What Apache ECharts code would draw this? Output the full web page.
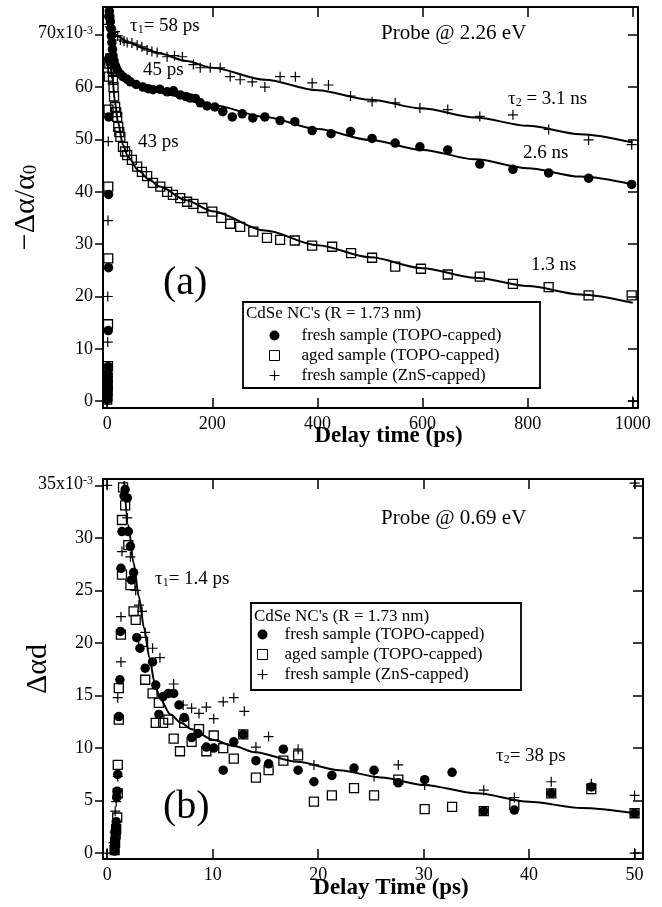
<!DOCTYPE html>
<html>
<head>
<meta charset="utf-8">
<script src="https://cdn.jsdelivr.net/npm/echarts@6/dist/echarts.min.js"></script>
<style>html,body{margin:0;background:#fff}#chart{width:662px;height:907px}</style>
</head>
<body>
<div id="chart"></div>
<script>
var FONT = 'Liberation Serif'
var NAMES = ['fresh sample (TOPO-capped)', 'aged sample (TOPO-capped)', 'fresh sample (ZnS-capped)']

// (a) probe 2.26 eV, y in units of 1e-3
var aTicksX = [0, 200, 400, 600, 800, 1000]
var aTicksY = [0, 10, 20, 30, 40, 50, 60, 70]
var aFresh = [[0,0.3],[0.5,1],[0.5,1.6],[1,2.2],[1,3],[1,3.8],[1.5,4.6],[1.5,5.4],[2,6.6],[2,13.5],[2.5,25.5],[2.5,39.5],[3,54.3],[3,65.5],[3,73.5],[4,74.5],[5,73.5],[6,72.5],[7,71.2],[8,69.8],[9,68.5],[10,67.2],[11,66],[13,65],[16,64],[19,63.3],[25,62.5],[30,62],[38,61.5],[44,61],[55,60.5],[68,60],[78,59.7],[87,59.5],[100,59.6],[114,59.1],[126,59.3],[139,58.5],[150,58.2],[158,57.9],[168,57.8],[177,57],[190,56.4],[205,56.2],[220,55.3],[238,54.3],[257,54.9],[277,54.1],[300,54.3],[329,53.6],[357,53.4],[390,51.7],[426,51.1],[463,51.5],[504,50.2],[548,49.3],[595,48.6],[648,48],[709,45.3],[772,44.3],[840,43.6],[916,42.6],[998,41.4]]
var aAged = [[0,0.3],[0.5,1],[0.5,2],[1,3],[1,4.5],[1.5,6.7],[1.5,14.7],[2,27.3],[2,41],[2.5,55.7],[3,62],[4,64.5],[6,65.5],[8,65],[9,64.6],[10,63.5],[11,62.9],[11,61.4],[12,60],[13,58.2],[15,56.2],[17,55.2],[19,54.3],[21,52.4],[23,51.4],[25,50.5],[30,48.6],[34,47.7],[38,47],[47,46.1],[57,44.8],[66,43.8],[76,43],[87,41.7],[101,41],[114,40],[125,39.4],[139,38.8],[152,38.1],[164,37.7],[181,36.9],[200,36.2],[217,35],[234,33.9],[253,33.3],[278,32.4],[304,31.2],[329,30.8],[357,30.7],[390,29.7],[428,29.5],[464,28.3],[504,27.4],[548,25.7],[597,25.3],[648,24.2],[709,23.8],[772,22.4],[840,21.8],[916,20.2],[998,20.2]]
var aZns = [[0,0],[0.5,1.2],[1,11.3],[1,20],[1.5,34.5],[2,49.6],[2,72],[5,71.5],[8,71],[11,70.5],[15,70.6],[20,69.8],[25,69],[32,68.8],[38,68.5],[47,68.4],[57,68],[66,67.7],[76,67.1],[85,66.8],[95,66.6],[114,65.8],[128,66],[143,65.8],[164,64.3],[177,63.7],[196,63.7],[215,63.7],[234,62],[253,61.4],[276,61],[300,60],[329,62],[358,62],[390,60.8],[421,60.4],[463,58.3],[504,57.2],[548,57],[595,56],[648,55.7],[709,54.4],[772,54.7],[840,51.9],[916,49.9],[998,49],[1000,0]]
var aFitFresh = [[2,73.5],[5,69],[10,66],[20,63.2],[30,62],[50,60.6],[80,59.6],[120,58.5],[160,57.5],[200,56.6],[300,54.3],[400,52],[500,49.9],[600,48],[700,46.2],[800,44.5],[900,42.9],[1000,41.4]]
var aFitAged = [[3,66],[6,64],[10,61.5],[15,57],[20,53.5],[30,49],[40,46.6],[60,44],[80,42.3],[100,41],[150,38.4],[200,36.3],[300,32.6],[400,29.8],[500,27.5],[600,25.4],[700,23.6],[800,22],[900,20.4],[1000,18.8]]
var aFitZns = [[0,72.5],[10,70.5],[20,69.7],[40,68.6],[70,67.4],[100,66.4],[150,65],[200,63.7],[300,61.4],[400,59.4],[500,57.6],[600,55.9],[700,54.2],[800,52.6],[900,51],[1000,49.4]]

// (b) probe 0.69 eV, y in units of 1e-3
var bTicksX = [0, 10, 20, 30, 40, 50]
var bTicksY = [0, 5, 10, 15, 20, 25, 30, 35]
var bFresh = [[0.7,0.2],[0.7,0.6],[0.75,1],[0.75,1.4],[0.8,1.8],[0.8,2.2],[0.8,2.5],[0.85,3],[0.9,5.3],[0.95,5.9],[1,7.5],[1.1,13],[1.2,16.5],[1.25,21.1],[1.3,27.1],[1.4,30.6],[1.6,34],[1.7,34.6],[1.9,33.8],[2,30.6],[2.2,29.2],[2.3,26],[2.5,26.7],[2.8,20.5],[3.1,19.5],[3.6,17.6],[4.3,18.2],[4.6,16],[4.9,13.2],[5.3,14.9],[5.8,15.2],[6.3,15.2],[6.8,14.1],[7.3,12.9],[8,11],[8.6,11.4],[9.4,10.1],[10.1,10],[11,7.9],[12,10.6],[12.9,11.3],[14.1,8.8],[15.3,8.5],[16.7,9.9],[18.1,7.9],[19.6,6.8],[21.3,7.4],[23.4,8.1],[25.3,7.9],[27.6,6.7],[30.1,7],[32.7,7.7],[35.7,4],[38.6,4.1],[42.1,5.7],[45.9,6.3],[50,3.8]]
var bAged = [[0.7,0.3],[0.75,1],[0.8,1.8],[0.85,2.3],[0.95,3.4],[1,5.7],[1,8.4],[1.1,12.7],[1.1,15.7],[1.3,20.8],[1.4,26.5],[1.4,31.7],[1.5,34.8],[1.7,33.1],[2,29.3],[2.2,25.5],[2.5,23],[2.7,22.2],[3.4,20.1],[3.6,16.5],[4.3,15.2],[4.9,14.3],[4.6,12.4],[5.3,12.4],[5.8,12.7],[6.3,10.9],[6.9,9.7],[7.3,12.4],[8,10.6],[8.7,11.8],[9.4,9.7],[10.1,11.2],[11,10],[12,9],[12.9,11.3],[14.1,7.2],[15.3,7.9],[16.7,8.8],[18.1,9.3],[19.6,4.9],[21.3,5.5],[23.4,6.2],[25.3,5.5],[27.6,7],[30.1,4.2],[32.7,4.4],[35.7,4],[38.6,4.6],[42.1,5.7],[45.9,6.1],[50,3.8]]
var bZns = [[0,0],[0,35],[50,35.2],[50,0],[0.6,1],[0.7,2],[0.76,4],[0.85,4.9],[1,7.3],[1,14.8],[1.3,18.2],[1.3,22.5],[1.4,28.7],[1.9,31.9],[2.2,28.2],[2.7,25],[3,23.6],[3.3,23],[3.6,21],[4.3,19.5],[5,18.6],[6.3,16.1],[7.2,14.1],[8,13.8],[8.7,13.3],[9.4,13.9],[10.1,12.8],[11,14.4],[12,14.8],[13,13.5],[14.1,10.1],[15.3,11.1],[18.1,9.9],[19.6,8.4],[25.3,7.3],[27.6,8.4],[30.1,6.5],[35.7,6],[38.6,5.3],[42.1,6.8],[45.9,6.6],[50,5.5]]
var bFit = [[1.6,35.4],[2,31.2],[2.5,27.6],[3,24.4],[3.5,21.4],[4,18.6],[4.5,16.2],[5,14.7],[6,13.2],[7,12.4],[8,11.8],[10,10.8],[12,10.2],[14,9.6],[18,8.7],[22,7.9],[26,7.2],[30,6.5],[35,5.7],[40,4.9],[45,4.3],[50,3.8]]

var AXIS_LINE = { show: true, onZero: false, lineStyle: { color: '#000', width: 2 } }
var CROSS = 'path://M4.4,0H5.6V4.4H10V5.6H5.6V10H4.4V5.6H0V4.4H4.4Z'
var SQUARE = 'path://M0,0H10V10H0Z'

function xAxes(grid, min, max, ticks, name, gap) {
  var tick = { show: true, inside: true, length: 10, customValues: ticks, lineStyle: { color: '#000', width: 1.5 } }
  return [{
    type: 'value', gridIndex: grid, position: 'bottom', min: min, max: max,
    axisLine: AXIS_LINE, axisTick: tick, splitLine: { show: false },
    axisLabel: { customValues: ticks, margin: 7, color: '#000', fontFamily: FONT, fontSize: 18,
      formatter: function (v) { return String(v) } },
    name: name, nameLocation: 'middle', nameGap: gap, nameMoveOverlap: false,
    // titles sit a little right of the plot centre in the original
    nameTextStyle: { color: '#000', fontFamily: FONT, fontSize: 23, fontWeight: 'bold', padding: [0, 0, 0, 36] }
  }, {
    type: 'value', gridIndex: grid, position: 'top', min: min, max: max,
    axisLine: AXIS_LINE, axisTick: tick, splitLine: { show: false }, axisLabel: { show: false }
  }]
}

function yAxes(grid, min, max, ticks, top, name, gap) {
  return [{
    type: 'value', gridIndex: grid, position: 'left', min: min, max: max,
    axisLine: AXIS_LINE, splitLine: { show: false },
    axisTick: { show: true, inside: false, length: 8, customValues: ticks, lineStyle: { color: '#000', width: 1.5 } },
    axisLabel: {
      customValues: ticks, margin: 10, color: '#000', fontFamily: FONT, fontSize: 18,
      formatter: function (v) { return v === top ? '{n|' + v + 'x10}{s|-3}' : String(v) },
      rich: {
        n: { fontFamily: FONT, fontSize: 18, color: '#000', verticalAlign: 'top', lineHeight: 20 },
        s: { fontFamily: FONT, fontSize: 12, color: '#000', verticalAlign: 'top', lineHeight: 12 }
      }
    },
    name: name, nameLocation: 'middle', nameGap: gap, nameMoveOverlap: false,
    nameTextStyle: {
      rich: {
        a: { fontFamily: FONT, fontSize: 30, color: '#000', verticalAlign: 'bottom', lineHeight: 32 },
        b: { fontFamily: FONT, fontSize: 19, color: '#000', verticalAlign: 'bottom', lineHeight: 18 }
      }
    }
  }, {
    type: 'value', gridIndex: grid, position: 'right', min: min, max: max,
    axisLine: AXIS_LINE, splitLine: { show: false }, axisLabel: { show: false },
    axisTick: { show: true, inside: true, length: 10, customValues: ticks, lineStyle: { color: '#000', width: 1.5 } }
  }]
}

function scatter(name, data, xi, yi, kind) {
  var s = { type: 'scatter', name: name, data: data, xAxisIndex: xi, yAxisIndex: yi, z: 3, symbolKeepAspect: true }
  if (kind === 'circle') {
    s.symbol = 'circle'; s.symbolSize = 9.5; s.itemStyle = { color: '#000', opacity: 1 }
  } else if (kind === 'rect') {
    s.symbol = SQUARE; s.symbolSize = 9
    s.itemStyle = { color: 'rgba(255,255,255,0)', borderColor: '#000', borderWidth: 1.3, opacity: 1 }
  } else {
    s.symbol = CROSS; s.symbolSize = 10; s.itemStyle = { color: '#000', opacity: 1 }
  }
  return s
}

function fit(data, xi, yi) {
  return { type: 'line', data: data, xAxisIndex: xi, yAxisIndex: yi, showSymbol: false, smooth: 0.3,
    smoothMonotone: 'x', lineStyle: { color: '#000', width: 2 }, z: 4, silent: true }
}

function label(x, y, text, size) {
  return { type: 'text', x: x, y: y, z: 10,
    style: { text: text, fontFamily: FONT, fontSize: size || 19, fill: '#000', verticalAlign: 'middle',
      rich: {
        t: { fontFamily: FONT, fontSize: size || 19, fill: '#000', verticalAlign: 'bottom', lineHeight: 22 },
        s: { fontFamily: FONT, fontSize: 12, fill: '#000', verticalAlign: 'bottom', lineHeight: 12 }
      } } }
}

function legendBox(x, y, w, h, titleY) {
  return [
    { type: 'rect', z: 3, shape: { x: x, y: y, width: w, height: h }, style: { fill: '#fff', stroke: '#000', lineWidth: 1.8 } },
    { type: 'text', z: 10, x: x + 3, y: titleY, style: { text: "CdSe NC's (R = 1.73 nm)", fontFamily: FONT, fontSize: 17, fill: '#000', verticalAlign: 'middle' } }
  ]
}

function legend(left, top, w) {
  return { orient: 'vertical', left: left, top: top, itemWidth: w, itemHeight: 10, itemGap: 3, z: 6,
    symbolKeepAspect: true, selectedMode: false, data: NAMES,
    itemStyle: { borderWidth: 1 },
    textStyle: { fontFamily: FONT, fontSize: 17, color: '#000', lineHeight: 17 } }
}

var chart = echarts.init(document.getElementById('chart'), null, { renderer: 'canvas' })
chart.setOption({
  backgroundColor: '#fff',
  animation: false,
  grid: [
    { left: 103, top: 7, width: 535, height: 401, outerBoundsMode: 'none' },
    { left: 103, top: 479, width: 540, height: 380, outerBoundsMode: 'none' }
  ],
  xAxis: xAxes(0, -8, 1010, aTicksX, 'Delay time (ps)', 17).concat(xAxes(1, -0.4, 50.8, bTicksX, 'Delay Time (ps)', 18)),
  yAxis: yAxes(0, -1.3, 75.3, aTicksY, 70, '{a|\u2212\u0394\u03b1/\u03b1}{b|0}', 62).concat(yAxes(1, -0.55, 35.6, bTicksY, 35, '{a|\u0394\u03b1d}', 50)),
  legend: [legend(264, 322, 44), legend(252, 621, 34)],
  series: [
    fit(aFitFresh, 0, 0), fit(aFitAged, 0, 0), fit(aFitZns, 0, 0),
    scatter(NAMES[0], aFresh, 0, 0, 'circle'),
    scatter(NAMES[1], aAged, 0, 0, 'rect'),
    scatter(NAMES[2], aZns, 0, 0, 'cross'),
    fit(bFit, 2, 2),
    scatter(NAMES[0], bFresh, 2, 2, 'circle'),
    scatter(NAMES[1], bAged, 2, 2, 'rect'),
    scatter(NAMES[2], bZns, 2, 2, 'cross')
  ],
  graphic: legendBox(243, 302, 297, 86, 314).concat(legendBox(251, 603, 270, 87, 617), [
    label(130, 25, '{t|\u03c4}{s|1}{t|= 58 ps}'),
    label(143, 70, '45 ps'),
    label(138, 142, '43 ps'),
    label(381, 33, 'Probe @ 2.26 eV', 21),
    label(508, 98, '{t|\u03c4}{s|2}{t| = 3.1 ns}'),
    label(523, 153, '2.6 ns'),
    label(531, 265, '1.3 ns'),
    label(163, 283, '(a)', 40),
    label(381, 518, 'Probe @ 0.69 eV', 21),
    label(155, 578, '{t|\u03c4}{s|1}{t|= 1.4 ps}'),
    label(496, 755, '{t|\u03c4}{s|2}{t|= 38 ps}'),
    label(163, 807, '(b)', 40)
  ])
})
</script>
</body>
</html>
